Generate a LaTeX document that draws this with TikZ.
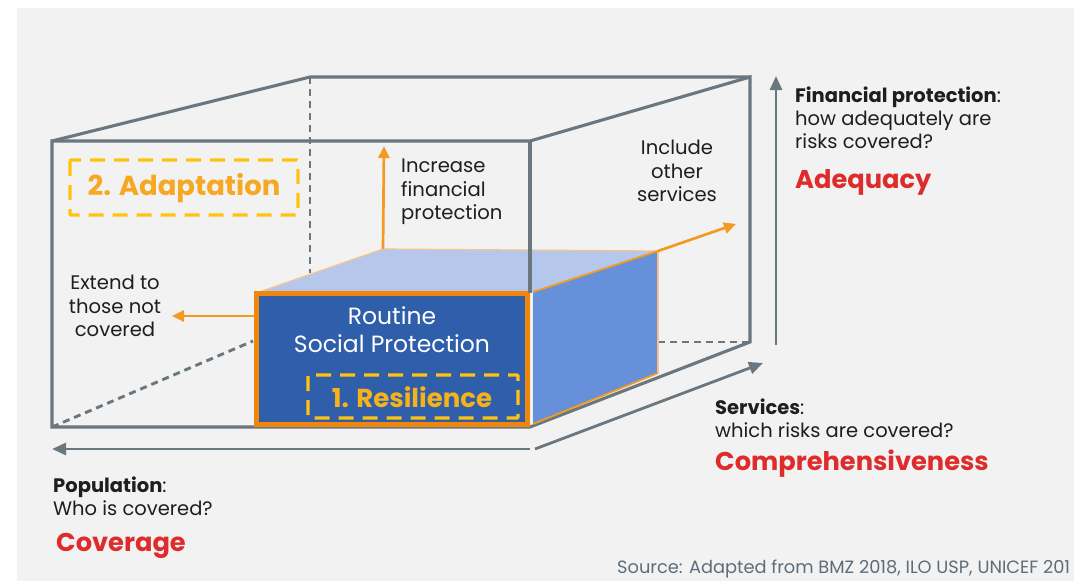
\documentclass[tikz,border=0pt]{standalone}
\usepackage{fontspec}
\setmainfont{Poppins}
\usetikzlibrary{arrows.meta}
\definecolor{bg}{HTML}{F2F2F2}
\definecolor{edge}{HTML}{6A777F}
\definecolor{orng}{HTML}{F0870C}
\definecolor{arr}{HTML}{F29A22}
\definecolor{front}{HTML}{2F5EAB}
\definecolor{topf}{HTML}{B5C8EB}
\definecolor{side}{HTML}{6690D9}
\definecolor{ylw}{HTML}{FFC20E}
\definecolor{adapt}{HTML}{F7A823}
\definecolor{resil}{HTML}{F7B21A}
\definecolor{redt}{HTML}{DE2B2B}
\definecolor{srct}{HTML}{5E6D79}
\definecolor{lorng}{HTML}{F9C28A}
\definecolor{txt}{HTML}{1E1E1E}
\tikzset{
  boxline/.style={draw=edge, line width=3.1pt},
  hidden/.style={draw=edge, line width=2.9pt, dash pattern=on 7pt off 5pt},
  gaxis/.style={draw=edge, line width=2.8pt, -{Triangle[length=14pt,width=12pt]}},
  oarrow/.style={draw=arr, line width=2.7pt, -{Triangle[length=12pt,width=11pt]}},
  ybox/.style={draw=ylw, line width=3.2pt, dash pattern=on 15pt off 9pt, rounded corners=1pt},
  body/.style={inner sep=0pt, text=txt, font=\fontsize{19.6}{23.5}\selectfont},
  big/.style={inner sep=0pt, text=redt, font=\fontsize{25.7}{30}\selectfont\bfseries},
}
\begin{document}
\begin{tikzpicture}[x=1pt,y=-1pt]
\useasboundingbox (0,0) rectangle (1074,581);
\fill[bg] (17,8) rectangle (1074,581);

% corner coordinates of the large cuboid
\coordinate (FTL) at (52,141);
\coordinate (FTR) at (530,141);
\coordinate (FBR) at (530,427);
\coordinate (FBL) at (52,427);
\coordinate (BTL) at (310,77);
\coordinate (BTR) at (750,77);
\coordinate (BBR) at (750,342);
\coordinate (HV) at (310,273);
\coordinate (HD) at (253,341);
\coordinate (HH) at (658,342);

% hidden edges
\draw[hidden] (BTL) -- (HV);
\draw[hidden] (FBL) -- (HD);
\draw[hidden] (HH) -- (BBR);

% visible edges
\draw[boxline, line join=miter] (FBR) -- (FBL) -- (FTL) -- (FTR) -- (BTR) -- (BBR) -- cycle;
\draw[boxline] (FTL) -- (BTL) -- (BTR);

% small cuboid
\coordinate (TFL) at (262,291);
\coordinate (TBL) at (383,249);
\coordinate (TBR) at (658,251);
\coordinate (TFR) at (533,292);
\coordinate (SBR) at (658,373);
\coordinate (SBL) at (533,424);
\fill[topf] (TFL) -- (TBL) -- (TBR) -- (TFR) -- cycle;
\draw[lorng, line width=1.2pt] (TFL) -- (TBL) -- (TBR);
\fill[side] (TFR) -- (TBR) -- (SBR) -- (SBL) -- cycle;
\draw[lorng, line width=1.5pt] (TBR) -- (SBR);
\draw[arr, line width=1.8pt] (TFR) -- (TBR);
\draw[arr, line width=1.8pt] (SBR) -- (SBL);
\node[fill=front, draw=orng, line width=5.5pt, minimum width=271pt, minimum height=131pt, inner sep=0pt] (front) at (392,359) {};
\draw[boxline] (FTR) -- (530,293);

% orange arrows
\coordinate (upend) at (384,146);
\coordinate (leftend) at (172,316);
\coordinate (diagend) at (736,224);
\draw[oarrow] (TBL) -- (upend);
\draw[oarrow] (254,316) -- (leftend);
\draw[oarrow] (TBR) -- (diagend);

% axes
\coordinate (VA0) at (776,345);
\coordinate (VA1) at (776,76);
\coordinate (HA0) at (530,449);
\coordinate (HA1) at (52,449);
\coordinate (DA0) at (535,449);
\coordinate (DA1) at (763,363);
\draw[gaxis] (VA0) -- (VA1);
\draw[gaxis] (HA0) -- (HA1);
\draw[gaxis] (DA0) -- (DA1);

% dashed labels
\draw[ybox] (70,160) rectangle (298,215);
\node[inner sep=0pt, text=adapt, font=\fontsize{27.5}{30}\selectfont\bfseries] (adapt) at (184,188) {2. Adaptation};
\draw[ybox] (308,375) rectangle (518,418);
\node[inner sep=0pt, text=resil, font=\fontsize{26}{28}\selectfont\bfseries] (resil) at (412,397) {1. Resilience};

\node[inner sep=0pt, text=white, align=center, font=\fontsize{23.5}{28}\selectfont] (routine) at (392,330) {Routine\\Social Protection};

\node[body, anchor=west, align=left] (incr) at (401,192) {Increase\\financial\\protection};
\node[body, align=center] (ext) at (115,306) {Extend to\\those not\\covered};
\node[body, align=center] (incl) at (677,171) {Include\\other\\services};

\node[body, anchor=west, align=left, font=\fontsize{19.5}{23}\selectfont] (fin) at (795,118) {\textbf{Financial protection}:\\how adequately are\\risks covered?};
\node[big, anchor=west] (adeq) at (795,182) {Adequacy};
\node[body, anchor=west, align=left, font=\fontsize{19.5}{23}\selectfont] (serv) at (715,418) {\textbf{Services}:\\which risks are covered?};
\node[big, anchor=west] (comp) at (715,464) {Comprehensiveness};
\node[body, anchor=west, align=left, font=\fontsize{19.5}{23}\selectfont] (pop) at (53,496) {\textbf{Population}:\\Who is covered?};
\node[big, anchor=west] (cov) at (56,546) {Coverage};
\node[inner sep=0pt, anchor=west, text=srct, font=\fontsize{17.8}{20}\selectfont] (src) at (617,569) {Source: Adapted from BMZ 2018, ILO USP, UNICEF 201};
\end{tikzpicture}
\end{document}
